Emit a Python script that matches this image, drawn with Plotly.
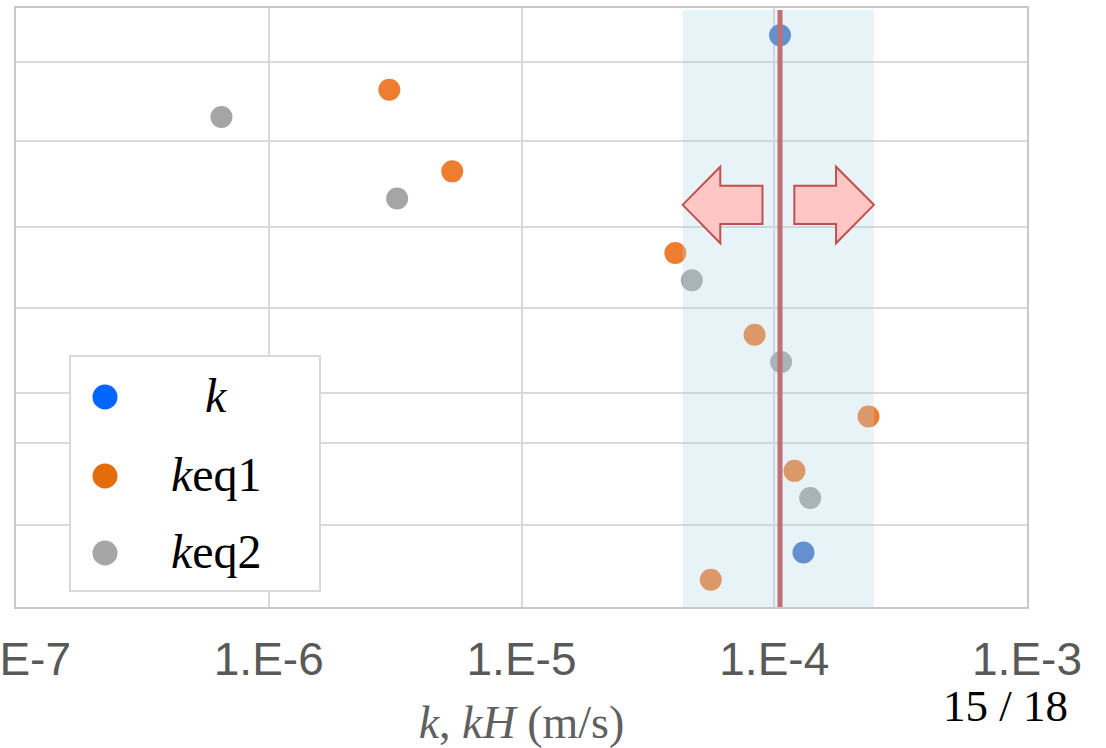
import numpy as np
import plotly.graph_objects as go

# ---------------- data ----------------
k_x = [1.054e-4, 1.305e-4]
k_row = [0, 19]
keq1_x = [3.0e-6, 5.32e-6, 4.06e-5, 8.36e-5, 2.36e-4, 1.202e-4, 5.61e-5]
keq1_row = [2, 5, 8, 11, 14, 16, 20]
keq2_x = [6.5e-7, 3.22e-6, 4.72e-5, 1.064e-4, 1.387e-4]
keq2_row = [3, 6, 9, 12, 17]

k_ref = 1.054e-4
band = [4.34e-5, 2.48e-4]

x_tickvals = [1e-7, 1e-6, 1e-5, 1e-4, 1e-3]
x_ticktext = ["1.E-7", "1.E-6", "1.E-5", "1.E-4", "1.E-3"]
row_grid = [0.99, 3.9, 7.04, 10.0, 13.13, 14.98, 18.0]

series_names = ["<i>k</i>", "<i>k</i>eq1", "<i>k</i>eq2"]
series_colors = ["#4472C4", "#ED7D31", "#A5A5A5"]
legend_colors = ["#0066FF", "#E46C0A", "#A6A6A6"]

# ---------------- layout constants ----------------
W, H = 1106, 748
L, R, T, B = 16, 79, 8, 141
PW, PH = W - L - R, H - T - B
XR = [-7, -3]


def px_x(p):
    return (p - L) / PW


def px_y(p):
    return (H - B - p) / PH


SERIF = "Liberation Serif, Times New Roman, serif"
SANS = "Liberation Sans, Arial, sans-serif"

fig = go.Figure()
for xs, ys, name, col in zip([k_x, keq1_x, keq2_x], [k_row, keq1_row, keq2_row],
                             ["k", "keq1", "keq2"], series_colors):
    fig.add_trace(go.Scatter(x=xs, y=ys, mode="markers", name=name,
                             marker=dict(size=22, color=col, line=dict(width=0)),
                             showlegend=False))

shapes = []
lo, hi, c = np.log10(band[0]), np.log10(band[1]), np.log10(k_ref)
top_row = -0.93
# shaded band (drawn above points, semi-transparent); x2 is a linear log10 twin of x
shapes.append(dict(type="rect", xref="x2", yref="y", x0=lo, x1=hi, y0=21, y1=top_row,
                   fillcolor="rgba(178,215,232,0.30)", line=dict(width=0), layer="above"))
# reference line
shapes.append(dict(type="line", xref="x2", yref="y", x0=c, x1=c, y0=21, y1=top_row,
                   line=dict(color="rgb(192,112,114)", width=5), layer="above"))

# arrows
yc, yh1, yh2, ys1, ys2 = 6.23, 4.83, 7.64, 5.53, 6.93
lh, ls = lo + 0.149, lo + 0.316
rs, rh = hi - 0.315, hi - 0.150
left_path = (f"M {lo},{yc} L {lh},{yh1} L {lh},{ys1} L {ls},{ys1} L {ls},{ys2} "
             f"L {lh},{ys2} L {lh},{yh2} Z")
right_path = (f"M {rs},{ys1} L {rh},{ys1} L {rh},{yh1} L {hi},{yc} L {rh},{yh2} "
              f"L {rh},{ys2} L {rs},{ys2} Z")
for pth in (left_path, right_path):
    shapes.append(dict(type="path", xref="x2", yref="y", path=pth,
                       fillcolor="rgb(255,198,198)", line=dict(color="#C0504D", width=2),
                       layer="above"))

# legend box
shapes.append(dict(type="rect", xref="paper", yref="paper", x0=px_x(70), x1=px_x(320),
                   y0=px_y(591), y1=px_y(356), fillcolor="white",
                   line=dict(color="#D9D9D9", width=2), layer="above"))
annotations = []
rows_px = [397, 476, 553]
for name, col, rp in zip(series_names, legend_colors, rows_px):
    shapes.append(dict(type="circle", xref="paper", yref="paper", xsizemode="pixel",
                       ysizemode="pixel", xanchor=px_x(105), yanchor=px_y(rp),
                       x0=-12.5, x1=12.5, y0=-12.5, y1=12.5, fillcolor=col,
                       line=dict(width=0), layer="above"))
    annotations.append(dict(text=name, xref="paper", yref="paper", x=px_x(216),
                            y=px_y(rp - 2), xanchor="center", yanchor="middle",
                            showarrow=False, font=dict(family=SERIF, size=48, color="black")))

annotations.append(dict(text="15 / 18", xref="paper", yref="paper", x=px_x(1005),
                        y=px_y(706), xanchor="center", yanchor="middle", showarrow=False,
                        font=dict(family=SERIF, size=45, color="black")))

fig.update_layout(
    width=W, height=H,
    margin=dict(l=L, r=R, t=T, b=B, autoexpand=False),
    paper_bgcolor="white", plot_bgcolor="white",
    showlegend=False,
    shapes=shapes, annotations=annotations,
    xaxis=dict(type="log", range=XR, tickvals=x_tickvals, ticktext=x_ticktext,
               showgrid=True, gridcolor="#D9D9D9", gridwidth=2,
               showline=True, linecolor="#C8C8C8", linewidth=2, mirror=True,
               ticks="", zeroline=False, automargin=False,
               ticklabeloverflow="allow", ticklabelstandoff=11,
               tickfont=dict(family=SANS, size=46, color="#595959"),
               title=dict(text="<i>k</i>, <i>kH</i> (m/s)", standoff=29,
                          font=dict(family=SERIF, size=46, color="#5F5F5F"))),
    xaxis2=dict(type="linear", range=XR, overlaying="x", visible=False),
    yaxis=dict(range=[21, -1], tickvals=row_grid, showticklabels=False,
               showgrid=True, gridcolor="#D9D9D9", gridwidth=2,
               showline=True, linecolor="#C8C8C8", linewidth=2, mirror=True,
               ticks="", zeroline=False, automargin=False),
)

fig.write_html("out.html", config={"displayModeBar": False},
               post_script="document.body.style.margin='0';")
